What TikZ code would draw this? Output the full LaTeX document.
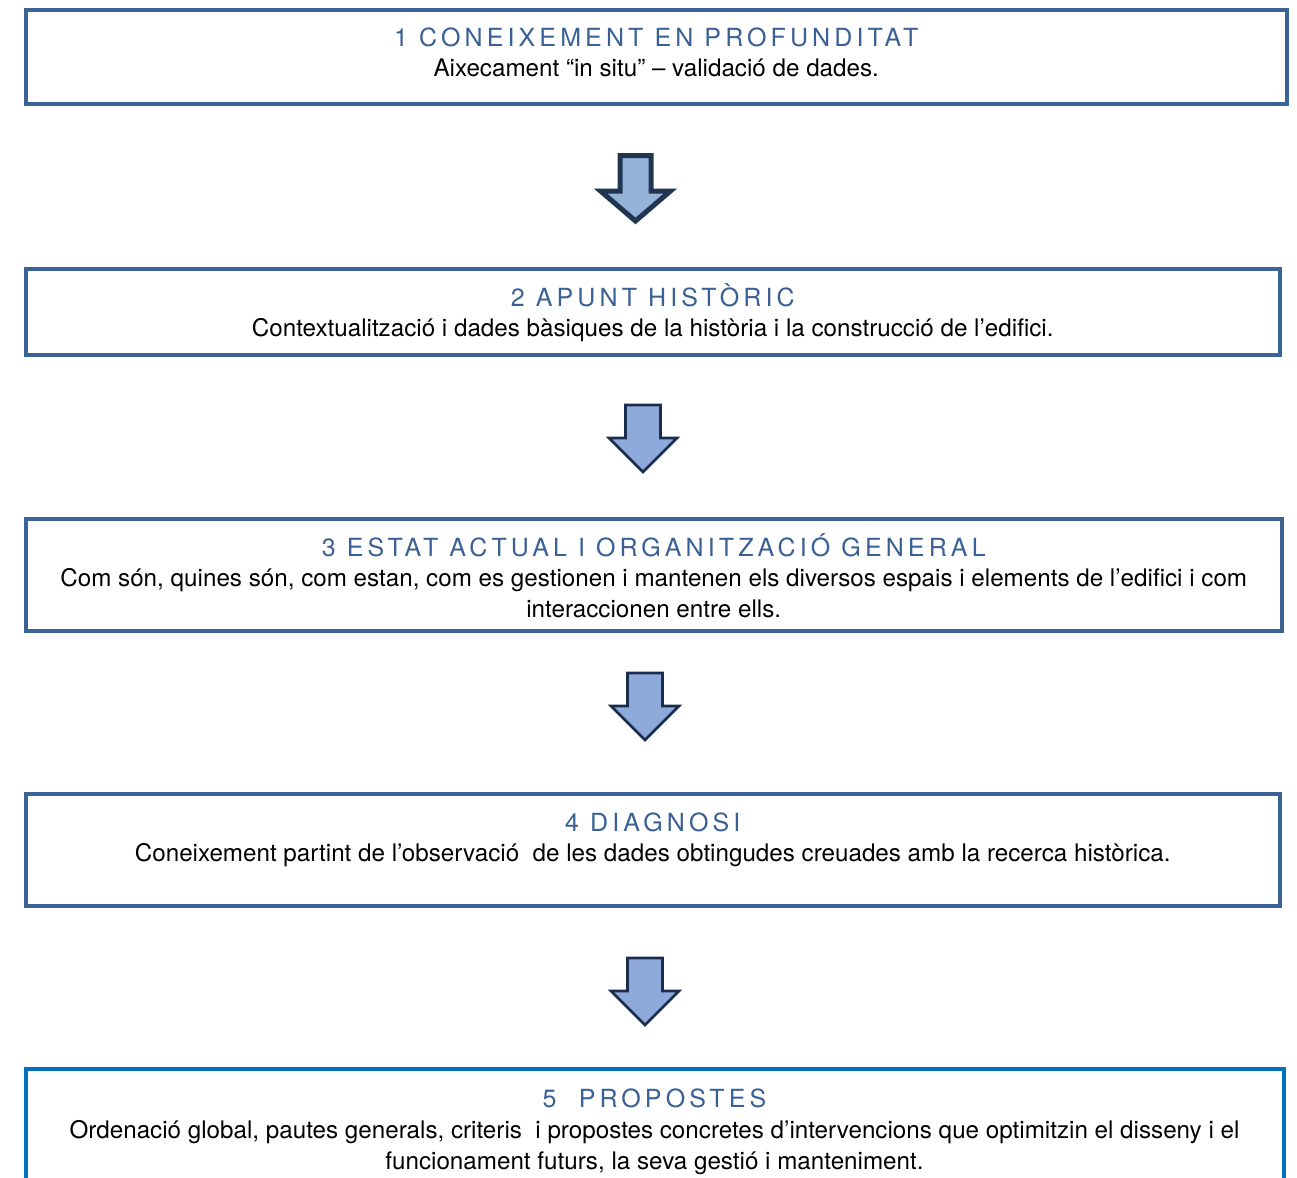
\documentclass[tikz,border=0pt]{standalone}
\usepackage{fontspec}
\setmainfont{TeX Gyre Heros}
\newfontfamily\titlefont[LetterSpace=16.5]{TeX Gyre Heros}
\usetikzlibrary{calc,fit}
\definecolor{vorablava}{HTML}{3B6496}
\definecolor{voraviva}{HTML}{0070C0}
\definecolor{titolblau}{HTML}{3A6095}
\definecolor{fletxaA}{HTML}{95B3D7}
\definecolor{fletxaB}{HTML}{8EAADB}
\definecolor{contornA}{HTML}{1F3552}
\definecolor{contornB}{HTML}{1A2D4E}

\begin{document}
\begin{tikzpicture}[x=0.5pt,y=-0.5pt,
  fase/.style={draw=vorablava, line width=2pt, rectangle, inner sep=0pt, outer sep=0pt},
  titol/.style={anchor=base, inner sep=0pt, text=titolblau, font=\titlefont\fontsize{12.5}{14}\selectfont},
  cos/.style={anchor=base, inner sep=0pt, align=center, font=\fontsize{12.1}{15.5}\selectfont}]
\useasboundingbox (0,0) rectangle (1297,1178);
\clip (0,0) rectangle (1297,1178);
% caixes
\node[fase, fit={(25.5,9.5) (1287,103.5)}] (fase1) {};
\node[fase, fit={(25.5,269) (1280,355)}] (fase2) {};
\node[fase, fit={(25.5,519) (1282,631)}] (fase3) {};
\node[fase, fit={(25.5,794) (1280,906)}] (fase4) {};
\node[fase, draw=voraviva, fit={(25.5,1069) (1283.5,1240)}] (fase5) {};
% textos (el base d'un text de dues linies es la darrera)
\node[titol] (titol1) at ($(fase1.north)+(0,37)$) {1 CONEIXEMENT EN PROFUNDITAT};
\node[cos] (cos1) at ($(fase1.north)+(0,67)$) {Aixecament “in situ” – validació de dades.};
\node[titol] (titol2) at ($(fase2.north)+(0,37)$) {2 APUNT HISTÒRIC};
\node[cos] (cos2) at ($(fase2.north)+(0,67)$) {Contextualització i dades bàsiques de la història i la construcció de l’edifici.};
\node[titol] (titol3) at ($(fase3.north)+(0,37)$) {3 ESTAT ACTUAL I ORGANITZACIÓ GENERAL};
\node[cos] (cos3) at ($(fase3.north)+(0,98)$) {Com són, quines són, com estan, com es gestionen i mantenen els diversos espais i elements de l’edifici i com\\ interaccionen entre ells.};
\node[titol] (titol4) at ($(fase4.north)+(0,37)$) {4 DIAGNOSI};
\node[cos] (cos4) at ($(fase4.north)+(0,67)$) {Coneixement partint de l’observació \ de les dades obtingudes creuades amb la recerca històrica.};
\node[titol] (titol5) at ($(fase5.north)+(0,38)$) {5\ \ PROPOSTES};
\node[cos] (cos5) at ($(fase5.north)+(0,100)$) {Ordenació global, pautes generals, criteris \ i propostes concretes d’intervencions que optimitzin el disseny i el\\ funcionament futurs, la seva gestió i manteniment.};
% fletxes
\foreach \cx/\ty/\bw/\hw/\sh/\tp/\lw/\fc/\dc in
  {635.5/155.5/15.5/35/35.5/65.5/2.5/fletxaA/contornA,
   643/405/17.5/34/33/67/1.3/fletxaB/contornB,
   645/673/17.5/34/33/67/1.3/fletxaB/contornB,
   645/958/17.5/34/33/67/1.3/fletxaB/contornB}
{   \filldraw[fill=\fc, draw=\dc, line width=\lw pt, line join=miter]
      (\cx-\bw,\ty) -- (\cx+\bw,\ty) -- (\cx+\bw,\ty+\sh) -- (\cx+\hw,\ty+\sh)
      -- (\cx,\ty+\tp) -- (\cx-\hw,\ty+\sh) -- (\cx-\bw,\ty+\sh) -- cycle;
}
\end{tikzpicture}
\end{document}
